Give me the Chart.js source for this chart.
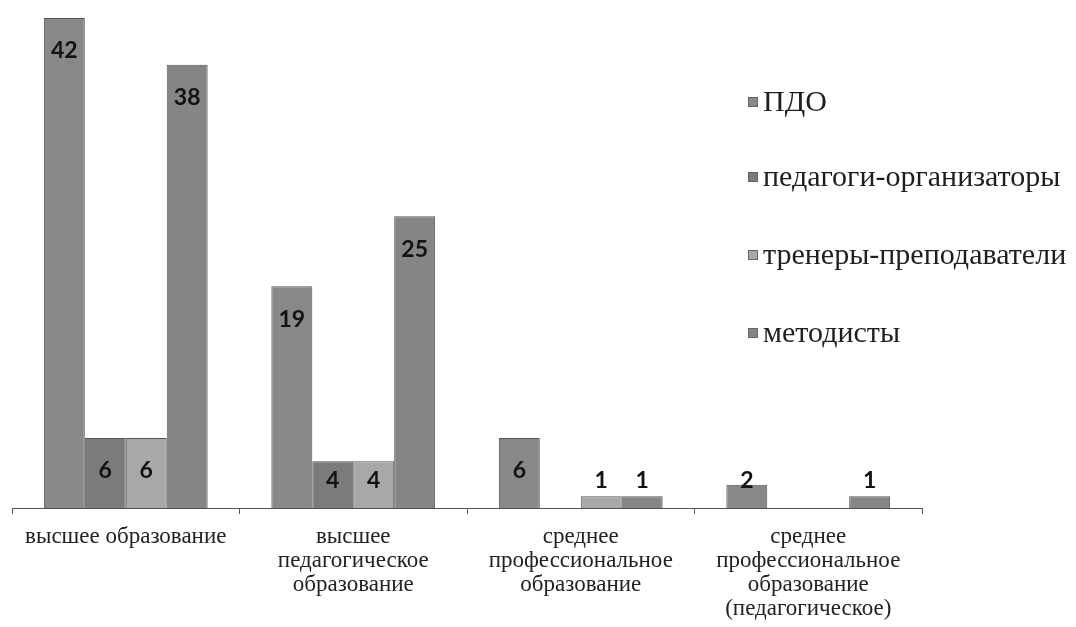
<!DOCTYPE html>
<html>
<head>
<meta charset="utf-8">
<script src="https://cdn.jsdelivr.net/npm/chart.js@4/dist/chart.umd.min.js"></script>
<style>
    html, body { margin: 0; padding: 0; background: #fff; }
    #wrap { width: 1076px; height: 627px; }
</style>
</head>
<body>
<div id="wrap"><canvas id="chart" width="1076" height="627"></canvas></div>
<script>
const categories = [
    "высшее образование",
    ["высшее", "педагогическое", "образование"],
    ["среднее", "профессиональное", "образование"],
    ["среднее", "профессиональное", "образование", "(педагогическое)"]
];
const seriesNames = ["ПДО", "педагоги-организаторы", "тренеры-преподаватели", "методисты"];
const pdo = [42, 19, 6, 2];
const pedOrg = [6, 4, 0, 0];
const trenery = [6, 4, 1, 0];
const metodisty = [38, 25, 1, 1];
const seriesColors = ["#888888", "#7b7b7b", "#a8a8a8", "#858585"];

// value labels: inside near the top, but never lower than just above the axis
const valueLabels = {
    id: "valueLabels",
    afterDatasetsDraw(chart) {
        const ctx = chart.ctx;
        ctx.save();
        ctx.font = "bold 23px Lato";
        ctx.fillStyle = "#121212";
        ctx.textAlign = "center";
        ctx.textBaseline = "middle";
        chart.data.datasets.forEach((ds, i) => {
            chart.getDatasetMeta(i).data.forEach((bar, j) => {
                const v = ds.data[j];
                if (!v) return;
                const y = Math.min(bar.y + 33, bar.base - 27);
                ctx.fillText(String(v), bar.x, y);
            });
        });
        ctx.restore();
    }
};

// legend drawn over the right side of the plot, like the original
const sideLegend = {
    id: "sideLegend",
    afterDraw(chart) {
        const ctx = chart.ctx;
        const rows = [102, 177, 255, 333];
        ctx.save();
        ctx.font = "30px 'Liberation Serif'";
        ctx.textBaseline = "middle";
        ctx.textAlign = "left";
        chart.data.datasets.forEach((ds, i) => {
            const y = rows[i];
            ctx.fillStyle = ds.backgroundColor;
            ctx.fillRect(748, y - 5, 10, 10);
            ctx.strokeStyle = "#666";
            ctx.lineWidth = 1;
            ctx.strokeRect(748.5, y - 4.5, 9, 9);
            ctx.fillStyle = "#1e1e1e";
            ctx.fillText(ds.label, 763, y + 1);
        });
        ctx.restore();
    }
};

const seriesData = [pdo, pedOrg, trenery, metodisty];

new Chart(document.getElementById("chart").getContext("2d"), {
    type: "bar",
    data: {
        labels: categories,
        datasets: seriesData.map((d, i) => ({
            label: seriesNames[i],
            data: d,
            backgroundColor: seriesColors[i],
            borderColor: "#555555",
            borderWidth: 1,
            categoryPercentage: 0.72,
            barPercentage: 1.0
        }))
    },
    options: {
        responsive: false,
        animation: false,
        layout: { padding: { left: 12, right: 154, top: 18, bottom: 0 } },
        plugins: {
            legend: { display: false },
            tooltip: { enabled: false }
        },
        scales: {
            x: {
                grid: {
                    display: true,
                    drawOnChartArea: false,
                    drawTicks: true,
                    tickLength: 6,
                    color: "#555",
                    offset: true
                },
                border: { display: true, color: "#555", width: 1 },
                ticks: {
                    font: { family: "'Liberation Serif'", size: 23, lineHeight: 1.04 },
                    color: "#222",
                    padding: 11,
                    autoSkip: false,
                    maxRotation: 0
                },
                afterFit(scale) { scale.height = 119; }
            },
            y: {
                display: false,
                min: 0,
                max: 42
            }
        }
    },
    plugins: [valueLabels, sideLegend]
});
</script>
</body>
</html>
